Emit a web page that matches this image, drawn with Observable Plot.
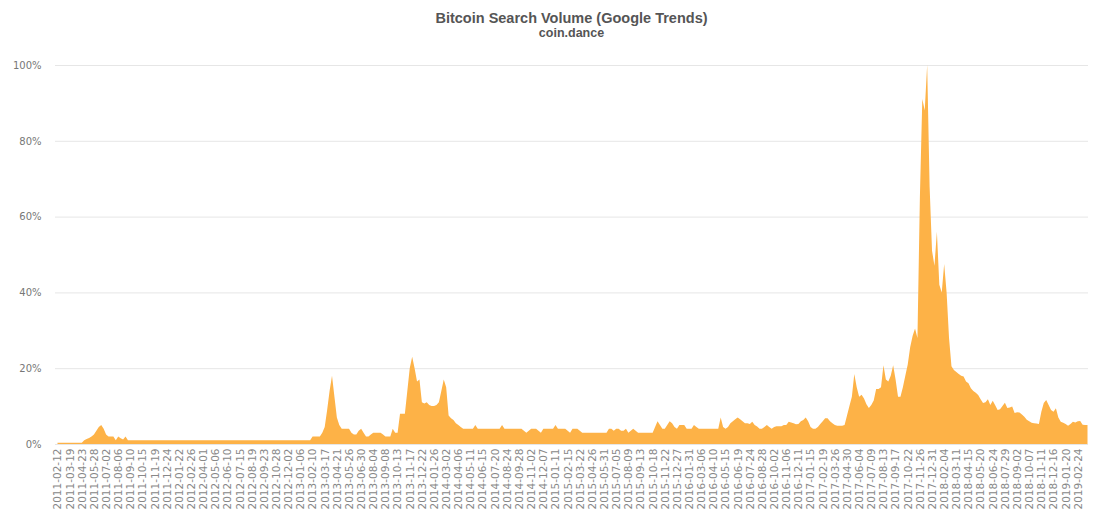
<!DOCTYPE html>
<html>
<head>
<meta charset="utf-8">
<script src="https://cdn.jsdelivr.net/npm/d3@7"></script>
<script src="https://cdn.jsdelivr.net/npm/@observablehq/plot@0.6"></script>
<style>
  html, body { margin: 0; padding: 0; background: #fff; }
  #wrap { width: 1097px; height: 530px; overflow: hidden; }
  .title { height: 26px; line-height: 16px; padding-top: 10px; box-sizing: border-box; margin-left: 46px;
           text-align: center; font: bold 14.5px "Liberation Sans", Arial, sans-serif; color: #555; }
  .subtitle { height: 14px; line-height: 14px; margin-left: 46px; text-align: center;
              font: bold 12.5px "Liberation Sans", Arial, sans-serif; color: #555; }
</style>
</head>
<body>
<div id="wrap">
  <div class="title">Bitcoin Search Volume (Google Trends)</div>
  <div class="subtitle">coin.dance</div>
  <div id="chart"></div>
</div>
<script>
// Weekly search volume (% of peak), one value per week starting 2011-02-12
const weekValues = [
  0.3,0.3,0.3,0.3,0.3,   // 2011-02-12
  0.3,0.3,0.3,0.3,0.3,   // 2011-03-19
  0.3,1,1.3,1.6,2,       // 2011-04-23
  2.5,3.5,4.5,5,4,       // 2011-05-28
  2.5,2,2,2,1,           // 2011-07-02
  2,1.5,1.2,2,1,         // 2011-08-06
  1,1,1,1,1,             // 2011-09-10
  1,1,1,1,1,             // 2011-10-15
  1,1,1,1,1,             // 2011-11-19
  1,1,1,1,1,             // 2011-12-24
  1,1,1,1,1,             // 2012-01-22
  1,1,1,1,1,             // 2012-02-26
  1,1,1,1,1,             // 2012-04-01
  1,1,1,1,1,             // 2012-05-06
  1,1,1,1,1,             // 2012-06-10
  1,1,1,1,1,             // 2012-07-15
  1,1,1,1,1,             // 2012-08-19
  1,1,1,1,1,             // 2012-09-23
  1,1,1,1,1,             // 2012-10-28
  1,1,1,1,1,             // 2012-12-02
  1,1,1,1,1,             // 2013-01-06
  2,2,2,2,3,             // 2013-02-10
  4.5,9,14,18,12.5,      // 2013-03-17
  7,5,4,4,4,             // 2013-04-21
  4,3,2.5,2.5,3.5,       // 2013-05-26
  4,3,2,2,2.5,           // 2013-06-30
  3,3,3,3,2.5,           // 2013-08-04
  2,2,2,4,3,             // 2013-09-08
  3,8,8,8,14,            // 2013-10-13
  20,23,20,16.5,17,      // 2013-11-17
  11,10.7,11,10.3,10,    // 2013-12-22
  10,10.3,11,14,17,      // 2014-01-26
  15,7.5,6.8,6.3,5.5,    // 2014-03-02
  5,4.5,4,4,4,           // 2014-04-06
  4,4,5,4,4,             // 2014-05-11
  4,4,4,4,4,             // 2014-06-15
  4,4,4,5,4,             // 2014-07-20
  4,4,4,4,4,             // 2014-08-24
  4,4,3.5,3,3.5,         // 2014-09-28
  4,4,4,3.5,3,           // 2014-11-02
  4,4,4,4,4,             // 2014-12-07
  5,4,4,4,4,             // 2015-01-11
  3.5,3,4,4,4,           // 2015-02-15
  3.5,3,3,3,3,           // 2015-03-22
  3,3,3,3,3,             // 2015-04-26
  3,3,4,4,3.5,           // 2015-05-31
  4,4,3.5,3.5,4,         // 2015-07-05
  3,3.5,4,3.5,3,         // 2015-08-09
  3,3,3,3,3,             // 2015-09-13
  3,4.5,6,5,4,           // 2015-10-18
  4,5,6,5.5,4.5,         // 2015-11-22
  4,5,5,5,4,             // 2015-12-27
  4,4,5,4.5,4,           // 2016-01-31
  4,4,4,4,4,             // 2016-03-06
  4,4,4,7,4.5,           // 2016-04-10
  4,4.5,5.5,6,6.5,       // 2016-05-15
  7,6.5,6,5.5,5.5,       // 2016-06-19
  5.3,5.9,5,4.6,4,       // 2016-07-24
  4,4.5,5,4.5,4,         // 2016-08-28
  4.5,4.7,4.7,4.7,5,     // 2016-10-02
  5,5.9,5.7,5.5,5.2,     // 2016-11-06
  5.3,6,6.3,7,6,         // 2016-12-11
  4.5,4,4,4.5,5.3,       // 2017-01-15
  6,6.8,6.8,6,5.5,       // 2017-02-19
  5,4.8,4.8,4.8,5,       // 2017-03-26
  7.5,10,12.5,18.5,15,   // 2017-04-30
  12.5,13,12,10.5,9.5,   // 2017-06-04
  10.3,11.5,14.5,14.5,15,// 2017-07-09
  20.8,17,16.5,18,20.8,  // 2017-08-13
  17,12.5,12.5,15,18,    // 2017-09-17
  21,25.5,28.5,30.5,28,  // 2017-10-22
  65,91,88,100,68,       // 2017-11-26
  51,47,56,42,40,        // 2017-12-31
  47.5,40,28,20.5,19.5,  // 2018-02-04
  19,18.5,18,17.8,16.5,  // 2018-03-11
  16,14.7,14,13.5,12.9,  // 2018-04-15
  11.8,10.8,11,11.8,10.3,// 2018-05-20
  11.4,10.2,9,9.2,10,    // 2018-06-24
  10.9,9.5,9.6,9.9,8.2,  // 2018-07-29
  8.4,8.3,7.8,7.2,6.4,   // 2018-09-02
  6,5.6,5.5,5.4,5.3,     // 2018-10-07
  8.5,10.8,11.6,10.3,9,  // 2018-11-11
  8.5,9.4,7,5.9,5.6,     // 2018-12-16
  5.3,4.8,5.3,5.9,5.7,   // 2019-01-20
  6,6.1,5.1,5,5          // 2019-02-24
];

// Category labels shown on the x axis (every fifth week)
const tickLabels = [
  "2011-02-12","2011-03-19","2011-04-23","2011-05-28","2011-07-02","2011-08-06","2011-09-10","2011-10-15","2011-11-19","2011-12-24",
  "2012-01-22","2012-02-26","2012-04-01","2012-05-06","2012-06-10","2012-07-15","2012-08-19","2012-09-23","2012-10-28","2012-12-02",
  "2013-01-06","2013-02-10","2013-03-17","2013-04-21","2013-05-26","2013-06-30","2013-08-04","2013-09-08","2013-10-13","2013-11-17","2013-12-22",
  "2014-01-26","2014-03-02","2014-04-06","2014-05-11","2014-06-15","2014-07-20","2014-08-24","2014-09-28","2014-11-02","2014-12-07",
  "2015-01-11","2015-02-15","2015-03-22","2015-04-26","2015-05-31","2015-07-05","2015-08-09","2015-09-13","2015-10-18","2015-11-22","2015-12-27",
  "2016-01-31","2016-03-06","2016-04-10","2016-05-15","2016-06-19","2016-07-24","2016-08-28","2016-10-02","2016-11-06","2016-12-11",
  "2017-01-15","2017-02-19","2017-03-26","2017-04-30","2017-06-04","2017-07-09","2017-08-13","2017-09-17","2017-10-22","2017-11-26","2017-12-31",
  "2018-02-04","2018-03-11","2018-04-15","2018-05-20","2018-06-24","2018-07-29","2018-09-02","2018-10-07","2018-11-11","2018-12-16",
  "2019-01-20","2019-02-24"
];
const labelEvery = 5;
const yTicks = [0, 20, 40, 60, 80, 100];

const data = weekValues.map((v, i) => ({week: i, volume: v}));
const tickWeeks = tickLabels.map((d, k) => k * labelEvery);

const chart = Plot.plot({
  width: 1097,
  height: 490,
  marginTop: 25,
  marginBottom: 86,
  marginLeft: 55,
  marginRight: 9,
  insetLeft: 2.5,
  insetRight: 0.5,
  style: {fontFamily: "'DejaVu Sans', sans-serif", fontSize: "10px", color: "#777", background: "#fff"},
  x: {domain: [0, weekValues.length - 1]},
  y: {domain: [0, 100]},
  marks: [
    Plot.gridY(yTicks, {stroke: "#e6e6e6", strokeOpacity: 1}),
    Plot.areaY(data, {x: "week", y: "volume", fill: "#fdb247", curve: "linear"}),
    Plot.axisY(yTicks, {tickSize: 0, tickPadding: 14, tickFormat: d => d + "%", label: null, fontSize: 10, fill: "#777"}),
    Plot.axisX(tickWeeks, {tickSize: 0, tickPadding: 4, tickRotate: -90, tickFormat: i => tickLabels[i / labelEvery], label: null, fontSize: 10.5, fill: "#888"})
  ]
});
document.getElementById("chart").appendChild(chart);
</script>
</body>
</html>
